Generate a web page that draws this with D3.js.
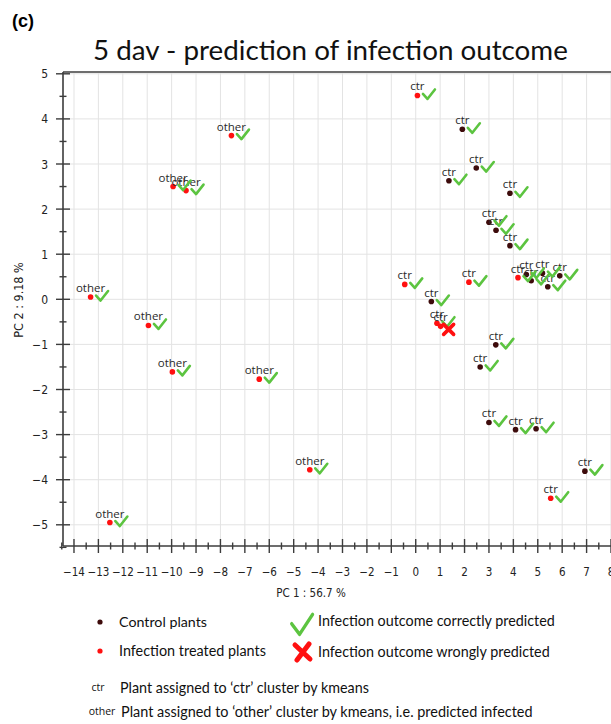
<!DOCTYPE html>
<html>
<head>
<meta charset="utf-8">
<script src="https://cdn.jsdelivr.net/npm/d3@7"></script>
<style>
  body { margin: 0; background: #fff; }
</style>
</head>
<body>
<div id="chart"></div>
<script>
// PCA scores
const pc1 = [0.07, 1.91, 2.48, 1.36, 3.86, 3.00, 3.29, 3.86, -0.45, 2.18, 0.64, 0.87, 1.02, 3.28, 2.64,
  4.19, 4.53, 4.73, 5.19, 5.41, 5.90, 3.00, 4.09, 4.93, 6.93, 5.53,
  -7.55, -9.94, -9.41, -13.32, -10.95, -9.97, -6.41, -12.53, -4.34]
const pc2 = [4.52, 3.77, 2.91, 2.63, 2.35, 1.71, 1.53, 1.19, 0.33, 0.38, -0.05, -0.53, -0.60, -1.01, -1.50,
  0.48, 0.55, 0.41, 0.58, 0.28, 0.52, -2.73, -2.89, -2.87, -3.81, -4.41,
  3.63, 2.50, 2.41, 0.05, -0.58, -1.61, -1.77, -4.95, -3.78]
// 1 = infection treated, 0 = control
const treated = [1, 0, 0, 0, 0, 0, 0, 0, 1, 1, 0, 1, 1, 0, 0,
  1, 0, 0, 0, 0, 0, 0, 0, 0, 0, 1,
  1, 1, 1, 1, 1, 1, 1, 1, 1]
// kmeans cluster of each plant
const cluster = ['ctr', 'ctr', 'ctr', 'ctr', 'ctr', 'ctr', 'ctr', 'ctr', 'ctr', 'ctr', 'ctr', 'ctr', 'ctr', 'ctr', 'ctr',
  'ctr', 'ctr', 'ctr', 'ctr', 'ctr', 'ctr', 'ctr', 'ctr', 'ctr', 'ctr', 'ctr',
  'other', 'other', 'other', 'other', 'other', 'other', 'other', 'other', 'other']
// 1 = outcome correctly predicted
const correct = [1, 1, 1, 1, 1, 1, 1, 1, 1, 1, 1, 1, 0, 1, 1,
  1, 1, 1, 1, 1, 1, 1, 1, 1, 1, 1,
  1, 1, 1, 1, 1, 1, 1, 1, 1]

const xTicks = d3.range(-14, 9)
const yTicks = d3.range(-5, 6)

const width = 611
const height = 724

const svg = d3
  .select('#chart')
  .append('svg')
  .attr('width', width)
  .attr('height', height)

const x = d3.scaleLinear().domain([-14.45, 8]).range([63, 611])
const y = d3.scaleLinear().domain([-5.47, 5.04]).range([546, 72])

const tickFont = "'DejaVu Sans Condensed', 'DejaVu Sans', sans-serif"
const textFont = "Lato, 'Open Sans', sans-serif"

// shrink / stretch a text to the width seen in the picture
function fit(sel, w) {
  const fs = parseFloat(sel.attr('font-size'))
  const cur = sel.node().getComputedTextLength()
  sel.attr('font-size', fs * w / cur)
  return sel
}

// grid
svg.append('g')
  .selectAll('line')
  .data(xTicks)
  .enter()
  .append('line')
  .attr('x1', d => x(d)).attr('x2', d => x(d))
  .attr('y1', y.range()[1]).attr('y2', y.range()[0])
  .attr('stroke', '#e3e3e3')

svg.append('g')
  .selectAll('line')
  .data(yTicks)
  .enter()
  .append('line')
  .attr('x1', x.range()[0]).attr('x2', x.range()[1])
  .attr('y1', d => y(d)).attr('y2', d => y(d))
  .attr('stroke', '#e3e3e3')

// top border
svg.append('line')
  .attr('x1', x.range()[0]).attr('x2', width)
  .attr('y1', y.range()[1]).attr('y2', y.range()[1])
  .attr('stroke', '#6e6e6e')
  .attr('stroke-width', 2)

// axes
const axisColor = '#3c3c3c'
svg.append('line')
  .attr('x1', x.range()[0]).attr('x2', x.range()[0])
  .attr('y1', y.range()[1]).attr('y2', y.range()[0])
  .attr('stroke', axisColor).attr('stroke-width', 1.6)
svg.append('line')
  .attr('x1', x.range()[0]).attr('x2', width)
  .attr('y1', y.range()[0]).attr('y2', y.range()[0])
  .attr('stroke', axisColor).attr('stroke-width', 1.6)

const xMinor = d3.range(-14.5, 8, 0.5).filter(v => v % 1 !== 0)
const yMinor = d3.range(-5.5, 5, 0.5).filter(v => v % 1 !== 0)
const x0 = x.range()[0]
const y0 = y.range()[0]

svg.append('g').selectAll('line').data(xTicks).enter().append('line')
  .attr('x1', d => x(d)).attr('x2', d => x(d))
  .attr('y1', y0 - 7).attr('y2', y0 + 7)
  .attr('stroke', axisColor).attr('stroke-width', 1.4)
svg.append('g').selectAll('line').data(xMinor).enter().append('line')
  .attr('x1', d => x(d)).attr('x2', d => x(d))
  .attr('y1', y0 - 3.5).attr('y2', y0 + 3.5)
  .attr('stroke', axisColor).attr('stroke-width', 1.4)
svg.append('g').selectAll('line').data(yTicks).enter().append('line')
  .attr('x1', x0 - 7).attr('x2', x0 + 7)
  .attr('y1', d => y(d)).attr('y2', d => y(d))
  .attr('stroke', axisColor).attr('stroke-width', 1.4)
svg.append('g').selectAll('line').data(yMinor).enter().append('line')
  .attr('x1', x0 - 3.5).attr('x2', x0 + 3.5)
  .attr('y1', d => y(d)).attr('y2', d => y(d))
  .attr('stroke', axisColor).attr('stroke-width', 1.4)

const fmt = d3.format('d')
svg.append('g').selectAll('text').data(xTicks).enter().append('text')
  .attr('x', d => x(d))
  .attr('y', 576)
  .attr('text-anchor', 'middle')
  .attr('font-family', tickFont)
  .attr('font-size', 11.5)
  .attr('fill', '#222')
  .text(d => fmt(d))
svg.append('g').selectAll('text').data(yTicks).enter().append('text')
  .attr('x', 48)
  .attr('y', d => y(d) + 4.5)
  .attr('text-anchor', 'end')
  .attr('font-family', tickFont)
  .attr('font-size', 12)
  .attr('fill', '#222')
  .text(d => fmt(d))

svg.append('text')
  .attr('x', 311).attr('y', 597)
  .attr('text-anchor', 'middle')
  .attr('font-family', tickFont)
  .attr('font-size', 11.5)
  .attr('fill', '#222')
  .text('PC 1 :  56.7 %')
svg.append('text')
  .attr('transform', 'translate(23,300) rotate(-90)')
  .attr('text-anchor', 'middle')
  .attr('font-family', tickFont)
  .attr('font-size', 12.5)
  .attr('fill', '#222')
  .text('PC 2 :  9.18 %')

// title
svg.append('text')
  .attr('x', 12).attr('y', 27)
  .attr('font-family', "'Liberation Sans', Arial, sans-serif")
  .attr('font-weight', 'bold')
  .attr('font-size', 18)
  .text('(c)')
fit(svg.append('text')
  .attr('x', 93).attr('y', 60)
  .attr('font-family', textFont)
  .attr('font-size', 30)
  .attr('fill', '#111')
  .text('5 dav - prediction of infection outcome'), 475)

// marks
const dark = '#3d0b0b'
const red = '#ff1010'
const green = '#5cc440'
const checkPath = 'M5.5,-1.5 L10,3.5 L17.5,-6'
const crossPath = 'M3,-2 L13,8 M13,-2 L3,8'

const idx = d3.range(pc1.length)

const pts = svg.append('g')
pts.selectAll('circle')
  .data(idx)
  .enter()
  .append('circle')
  .attr('cx', i => x(pc1[i]))
  .attr('cy', i => y(pc2[i]))
  .attr('r', 2.8)
  .attr('fill', i => treated[i] ? red : dark)

pts.selectAll('text')
  .data(idx)
  .enter()
  .append('text')
  .attr('x', i => x(pc1[i]))
  .attr('y', i => y(pc2[i]) - 5)
  .attr('text-anchor', 'middle')
  .attr('font-family', "'Open Sans', sans-serif")
  .attr('font-size', 11.5)
  .attr('fill', '#2a2a2a')
  .text(i => cluster[i])

pts.selectAll('path')
  .data(idx)
  .enter()
  .append('path')
  .attr('transform', i => `translate(${x(pc1[i])},${y(pc2[i])})`)
  .attr('d', i => correct[i] ? checkPath : crossPath)
  .attr('fill', 'none')
  .attr('stroke', i => correct[i] ? green : red)
  .attr('stroke-width', i => correct[i] ? 2.6 : 3.6)
  .attr('stroke-linecap', 'round')
  .attr('stroke-linejoin', 'round')

// legend
const legend = svg.append('g')
legend.append('circle').attr('cx', 100).attr('cy', 622).attr('r', 2.6).attr('fill', dark)
legend.append('circle').attr('cx', 100).attr('cy', 651).attr('r', 2.6).attr('fill', red)
legend.append('path')
  .attr('transform', 'translate(282,627) scale(1.75,2.1)')
  .attr('d', checkPath)
  .attr('fill', 'none').attr('stroke', green)
  .attr('stroke-width', 1.8).attr('stroke-linecap', 'round').attr('stroke-linejoin', 'round')
legend.append('path')
  .attr('transform', 'translate(293,644)')
  .attr('d', 'M2,1 L17,15 M16,0 L4,16')
  .attr('fill', 'none').attr('stroke', red)
  .attr('stroke-width', 5).attr('stroke-linecap', 'round')

const legendTexts = [
  ['Control plants', 119, 622, 88],
  ['Infection treated plants', 119, 651, 147],
  ['Infection outcome correctly predicted', 318, 621, 237],
  ['Infection outcome wrongly predicted', 318, 652, 232],
  ['Plant assigned to \u2018ctr\u2019 cluster by kmeans', 120, 688, 249],
  ['Plant assigned to \u2018other\u2019 cluster by kmeans, i.e. predicted infected', 121, 712, 412]
]
legendTexts.forEach(([t, lx, ly, w]) => {
  fit(legend.append('text')
    .attr('x', lx).attr('y', ly + 5)
    .attr('font-family', textFont)
    .attr('font-size', 15)
    .attr('fill', '#111')
    .text(t), w)
})
legend.append('text')
  .attr('x', 98).attr('y', 691)
  .attr('text-anchor', 'middle')
  .attr('font-family', "'Open Sans', sans-serif")
  .attr('font-size', 10.5).attr('fill', '#111')
  .text('ctr')
legend.append('text')
  .attr('x', 102).attr('y', 715)
  .attr('text-anchor', 'middle')
  .attr('font-family', "'Open Sans', sans-serif")
  .attr('font-size', 10.5).attr('fill', '#111')
  .text('other')
</script>
</body>
</html>
